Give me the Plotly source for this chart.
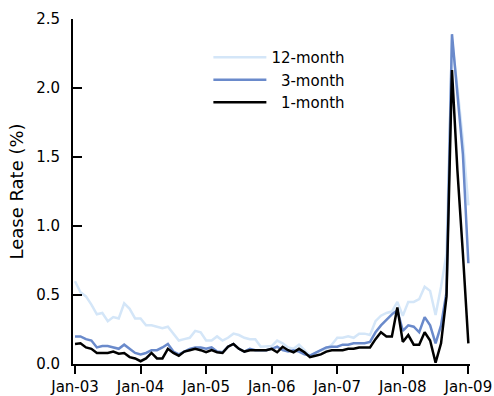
import plotly.graph_objects as go

months = list(range(73))  # Jan-03 .. Jan-09, monthly
tick_vals = [0, 12, 24, 36, 48, 60, 72]
tick_text = ["Jan-03", "Jan-04", "Jan-05", "Jan-06", "Jan-07", "Jan-08", "Jan-09"]

one_month = [
    0.145, 0.15, 0.12, 0.11, 0.08, 0.08, 0.08, 0.09, 0.075, 0.08,
    0.05, 0.04, 0.02, 0.04, 0.08, 0.04, 0.04, 0.11, 0.08, 0.06,
    0.09, 0.10, 0.11, 0.10, 0.085, 0.10, 0.085, 0.08, 0.125, 0.145,
    0.11, 0.09, 0.10, 0.10, 0.10, 0.10, 0.11, 0.085, 0.125, 0.10,
    0.085, 0.11, 0.085, 0.05, 0.06, 0.07, 0.09, 0.10, 0.10, 0.10,
    0.11, 0.11, 0.12, 0.12, 0.12, 0.18, 0.23, 0.20, 0.20, 0.41,
    0.16, 0.21, 0.14, 0.14, 0.23, 0.17, 0.01, 0.15, 0.49, 2.13,
    1.40, 0.80, 0.15,
]
three_month = [
    0.20, 0.20, 0.18, 0.17, 0.12, 0.13, 0.13, 0.12, 0.11, 0.14,
    0.11, 0.08, 0.07, 0.08, 0.10, 0.10, 0.12, 0.145, 0.09, 0.07,
    0.09, 0.11, 0.12, 0.12, 0.11, 0.12, 0.09, 0.085, 0.125, 0.145,
    0.11, 0.09, 0.11, 0.10, 0.10, 0.10, 0.11, 0.125, 0.10, 0.09,
    0.10, 0.09, 0.07, 0.06, 0.08, 0.10, 0.12, 0.125, 0.125, 0.14,
    0.14, 0.15, 0.15, 0.15, 0.16, 0.23, 0.28, 0.32, 0.36, 0.39,
    0.24, 0.28, 0.27, 0.23, 0.34, 0.28, 0.15, 0.28, 0.52, 2.39,
    1.95, 1.52, 0.73,
]
twelve_month = [
    0.60, 0.52, 0.49, 0.43, 0.36, 0.37, 0.31, 0.34, 0.33, 0.44,
    0.40, 0.33, 0.33, 0.28, 0.28, 0.27, 0.26, 0.27, 0.22, 0.17,
    0.18, 0.19, 0.24, 0.23, 0.17, 0.17, 0.20, 0.17, 0.19, 0.22,
    0.21, 0.19, 0.18, 0.18, 0.125, 0.125, 0.13, 0.17, 0.15, 0.12,
    0.11, 0.14, 0.10, 0.06, 0.08, 0.10, 0.11, 0.14, 0.19, 0.19,
    0.20, 0.19, 0.22, 0.22, 0.21, 0.31, 0.35, 0.37, 0.38, 0.45,
    0.35, 0.45, 0.45, 0.47, 0.56, 0.53, 0.355, 0.56, 0.80, 2.35,
    2.00, 1.62, 1.15,
]

series = [
    ("12-month", twelve_month, "#d4e6f8"),
    ("\u00a0\u00a03-month", three_month, "#6a8acb"),
    ("\u00a0\u00a01-month", one_month, "#000000"),
]

fig = go.Figure()
for name, vals, color in series:
    fig.add_trace(go.Scatter(x=months, y=vals, mode="lines", name=name,
                             line=dict(color=color, width=2.5)))

font = dict(family="DejaVu Sans, Verdana, sans-serif", size=15, color="#000000")
fig.update_layout(
    width=494, height=396,
    margin=dict(l=73, r=24, t=19, b=32),
    paper_bgcolor="white", plot_bgcolor="white",
    font=font,
    showlegend=True,
    legend=dict(x=0.341, y=0.936, xanchor="left", yanchor="top",
                bgcolor="rgba(0,0,0,0)", itemwidth=53, font=font),
    xaxis=dict(range=[-0.37, 72.3], tickmode="array", tickvals=tick_vals, ticktext=tick_text,
               automargin=False,
               showgrid=False, zeroline=False, showline=True, linecolor="black", linewidth=2,
               ticks="outside", ticklen=8, tickwidth=2, tickcolor="black"),
    yaxis=dict(range=[0, 2.5], tickvals=[0, 0.5, 1.0, 1.5, 2.0, 2.5],
               ticktext=["0.0", "0.5", "1.0", "1.5", "2.0", "2.5"],
               automargin=False, ticklabelstandoff=8,
               showgrid=False, zeroline=False, showline=True, linecolor="black", linewidth=2,
               ticks="inside", ticklen=9, tickwidth=2, tickcolor="black",
               title=dict(text="Lease Rate (%)", standoff=8)),
)

fig.write_html("out.html", config={"displayModeBar": False},
               post_script="document.body.style.margin='0';")
